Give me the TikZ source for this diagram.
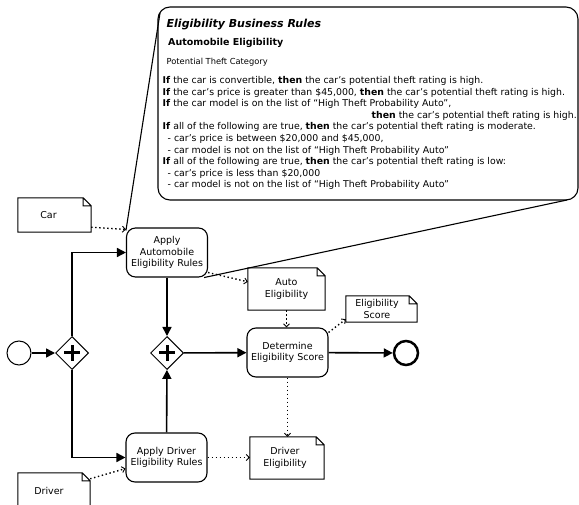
\documentclass[tikz,border=0pt]{standalone}
\usepackage{fontspec}
\setmainfont{DejaVu Sans}
\usetikzlibrary{arrows.meta,shapes.geometric}

\tikzset{
  flow/.style={line width=1.6pt, -{Triangle[length=9pt,width=9pt]}},
  assoc/.style={line width=1.4pt, dash pattern=on 1.4pt off 2.6pt,
    -{Straight Barb[length=3pt,width=6pt,line width=0.9pt]}},
  task/.style={draw, line width=1.1pt, rounded corners=9pt, minimum width=81pt,
    minimum height=49pt, inner sep=1pt, align=center,
    font=\fontsize{9.5}{11.7}\selectfont},
  gateway/.style={draw, diamond, line width=1pt, minimum width=33pt,
    minimum height=33pt, inner sep=0pt, fill=white},
  event/.style={draw, circle, minimum size=24pt, inner sep=0pt},
  doc/.style={inner sep=0pt, align=center, font=\fontsize{9.5}{11.7}\selectfont},
  docline/.style={line width=1pt, line join=miter},
  callout/.style={line width=1.1pt},
  rule/.style={anchor=west, inner sep=0pt, text height=7pt, text depth=2pt,
    font=\fontsize{9.35}{11}\selectfont},
}

% data object outline with a folded top-right corner
\newcommand\drawdoc[1]{%
  \draw[docline] (#1.north west) -- ([xshift=-8pt]#1.north east)
    -- ([yshift=-8pt]#1.north east) -- (#1.south east) -- (#1.south west) -- cycle
    ([xshift=-8pt]#1.north east) |- ([yshift=-8pt]#1.north east);}
% parallel gateway marker
\newcommand\gwplus[1]{%
  \draw[line width=3pt] ([xshift=-8pt]#1.center) -- ([xshift=8pt]#1.center)
    ([yshift=-8pt]#1.center) -- ([yshift=8pt]#1.center);}
% label text set a little left of the data object's middle, clear of the fold
\newcommand\lft[2]{\hspace*{-#1}#2}

\begin{document}
\begin{tikzpicture}[x=1pt,y=-1pt]
\useasboundingbox (0,0) rectangle (579,505);

% flow nodes
\node[event, line width=1pt] (start) at (19,353) {};
\node[gateway] (g1) at (72,353) {};
\node[task] (taskA) at (167,252.5) {Apply\\Automobile\\Eligibility Rules};
\node[gateway] (g2) at (167,353) {};
\node[task] (taskD) at (166.5,457.5) {Apply Driver\\Eligibility Rules};
\node[task] (taskE) at (287.5,352.5) {Determine\\Eligibility Score};
\node[event, line width=2.5pt] (end) at (406,353) {};
\gwplus{g1}
\gwplus{g2}

% data objects
\node[doc, minimum width=73pt, minimum height=34pt] (car) at (54.5,215) {\lft{12pt}{Car}};
\node[doc, minimum width=72pt, minimum height=36pt] (driver) at (54,491) {\lft{10pt}{Driver}};
\node[doc, minimum width=77pt, minimum height=42pt] (auto) at (286.5,289) {Auto\\Eligibility};
\node[doc, minimum width=71pt, minimum height=26pt] (score) at (381.5,309) {\lft{9pt}{Eligibility}\\\lft{9pt}{Score}};
\node[doc, minimum width=74pt, minimum height=42pt] (drv) at (287,458) {\lft{4pt}{Driver}\\\lft{4pt}{Eligibility}};
\drawdoc{car}
\drawdoc{driver}
\drawdoc{auto}
\drawdoc{score}
\drawdoc{drv}

% sequence flows
\draw[flow] (start) -- (g1);
\draw[flow] (g1.north) |- (taskA.west);
\draw[flow] (g1.south) |- (taskD.west);
\draw[flow] (taskA) -- (g2);
\draw[flow] (taskD) -- (g2);
\draw[flow] (g2) -- (taskE);
\draw[flow] (taskE) -- (end);

% associations
\draw[assoc] ([yshift=5pt]car.south east) -- ([yshift=-2pt]taskA.north west);
\draw[assoc] ([yshift=5pt]taskA.south east) -- ([yshift=-14pt]auto.north west);
\draw[assoc] (auto.south) -- (auto.south |- taskE.north);
\draw[assoc] ([yshift=-5pt]taskE.north east) -- ([yshift=3pt]score.south west);
\draw[assoc] (taskE.south) -- (taskE.south |- drv.north);
\draw[assoc] (taskD.east) -- (taskD.east -| drv.west);
\draw[assoc] ([yshift=-6pt]driver.north east) -- ([yshift=14pt]taskD.south west);

% annotation callout: rounded box and its two pointer lines
\draw[callout, rounded corners=12pt] (158,7) rectangle (578,200);
\coordinate (calloutTL) at (160,13);
\coordinate (calloutBR) at (567,200);
\draw[callout] (calloutTL) -- ([yshift=-3pt]taskA.north west);
\draw[callout] ([xshift=-4pt]taskA.south east) -- (calloutBR);

\node[rule, font=\fontsize{11}{13}\bfseries\itshape] (ttl) at (166.5,25) {Eligibility Business Rules};
\node[rule, font=\fontsize{9.5}{11}\bfseries] (sub) at (168,43) {Automobile Eligibility};
\node[rule, font=\fontsize{8.3}{10}\selectfont] (cat) at (166.5,62) {Potential Theft Category};
\node[rule] (r1) at (162.5,81) {\textbf{If} the car is convertible, \textbf{then} the car’s potential theft rating is high.};
\node[rule] (r2) at (162.5,92.6) {\textbf{If} the car’s price is greater than \$45,000, \textbf{then} the car’s potential theft rating is high.};
\node[rule] (r3) at (162.5,104.2) {\textbf{If} the car model is on the list of “High Theft Probability Auto”,};
\node[rule, anchor=east] (r4) at (577,115.8) {\textbf{then} the car’s potential theft rating is high.};
\node[rule] (r5) at (162.5,127.4) {\textbf{If} all of the following are true, \textbf{then} the car’s potential theft rating is moderate.};
\node[rule] (r6) at (167.5,139) {- car’s price is between \$20,000 and \$45,000,};
\node[rule] (r7) at (167.5,150.6) {- car model is not on the list of “High Theft Probability Auto”};
\node[rule] (r8) at (162.5,162.2) {\textbf{If} all of the following are true, \textbf{then} the car’s potential theft rating is low:};
\node[rule] (r9) at (167.5,173.8) {- car’s price is less than \$20,000};
\node[rule] (r10) at (167.5,185.4) {- car model is not on the list of “High Theft Probability Auto”};
\end{tikzpicture}
\end{document}
